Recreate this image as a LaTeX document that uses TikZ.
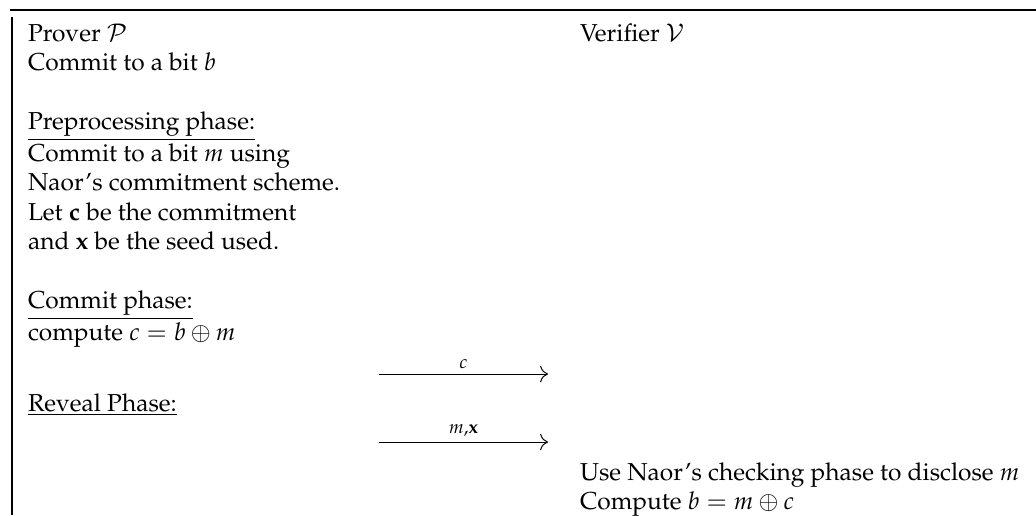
\documentclass[tikz,border=0pt]{standalone}
\usepackage[T1]{fontenc}
\usepackage{mathpazo}
\usetikzlibrary{arrows.meta}
\begin{document}
\begin{tikzpicture}[x=0.408pt,y=-0.408pt,
  txt/.style={anchor=base west,inner sep=0pt,outer sep=0pt},
  msg/.style={-{Computer Modern Rightarrow[scale=1.3]},line width=0.4pt},
  lbl/.style={midway,above,inner sep=2pt},
  toprl/.style={line width=1pt},
  siderl/.style={line width=0.45pt}]
\useasboundingbox (0,0) rectangle (1036,515);
% rules
\coordinate (tl) at (10,10);
\coordinate (tr) at (1036,10);
\draw[toprl] (tl) -- (tr);
\coordinate (vt) at (12,17);
\coordinate (vb) at (12,515);
\draw[siderl] (vt) -- (vb);
% prover column
\node[txt] (p1) at (28,41) {Prover $\mathcal{P}$};
\node[txt] (p2) at (28,70) {Commit to a bit $b$};
\node[txt] (p4) at (28,129) {\underline{Preprocessing phase:}};
\node[txt] (p5) at (28,161) {Commit to a bit $m$ using};
\node[txt] (p6) at (28,190) {Naor's commitment scheme.};
\node[txt] (p7) at (28,220) {Let $\mathbf{c}$ be the commitment};
\node[txt] (p8) at (28,249) {and $\mathbf{x}$ be the seed used.};
\node[txt] (p10) at (28,308) {\underline{Commit phase:}};
\node[txt] (p11) at (28,340) {compute $c = b \oplus m$};
\node[txt] (p13) at (28,411) {\underline{Reveal Phase:}};
% verifier column
\node[txt] (v1) at (580,41) {Verifier $\mathcal{V}$};
\node[txt] (v15) at (580,480) {Use Naor's checking phase to disclose $m$};
\node[txt] (v16) at (580,509) {Compute $b = m \oplus c$};
% messages
\coordinate (a1s) at (379,374);
\coordinate (a1e) at (548,374);
\draw[msg] (a1s) -- (a1e) node[lbl] (l1) {$\scriptstyle c$};
\coordinate (a2s) at (379,442);
\coordinate (a2e) at (548,442);
\draw[msg] (a2s) -- (a2e) node[lbl] (l2) {$\scriptstyle m,\mathbf{x}$};
\end{tikzpicture}
\end{document}
